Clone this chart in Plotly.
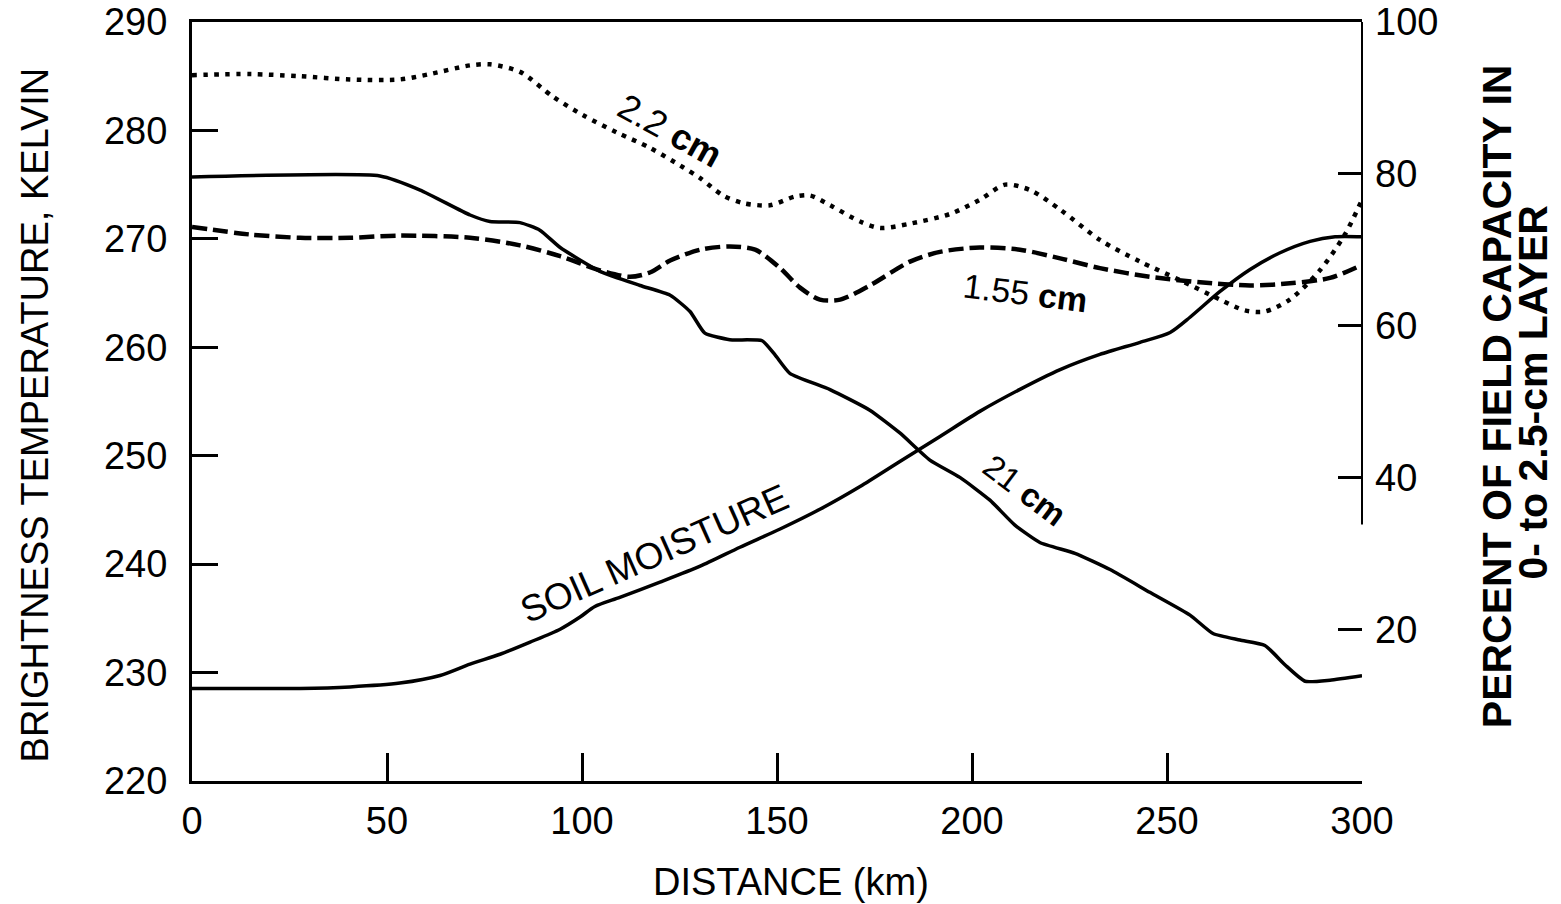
import plotly.graph_objects as go

# Distance along the flight line (km) and brightness temperatures (K)
dist_21 = [0, 48.2, 58.5, 71.3, 76.4, 84.1, 89.2, 94.4, 104.6, 114.9, 122.6, 127.7,
           131.5, 137.9, 146.2, 149.5, 153.3, 163.6, 173.8, 181.5, 189.2, 196.9,
           204.6, 211.0, 217.4, 226.4, 235.4, 245.6, 255.9, 261.8, 268.7, 275.1,
           280.3, 285.4, 291.8, 300]
tb_21 = [275.7, 275.8, 274.5, 272.2, 271.6, 271.5, 270.8, 269.2, 267.0, 265.7, 264.8,
         263.3, 261.3, 260.7, 260.6, 259.3, 257.6, 256.1, 254.2, 252.1, 249.6, 248.0,
         245.9, 243.6, 242.0, 241.0, 239.5, 237.4, 235.3, 233.6, 233.0, 232.5, 230.7,
         229.2, 229.3, 229.7]

dist_155 = [0, 14.9, 27.7, 40.5, 53.3, 71.3, 84.1, 94.4, 104.6, 112.3, 117.4, 122.6,
            130.3, 137.9, 144.4, 150.8, 155.9, 161.0, 166.2, 173.8, 184.1, 191.8,
            202.0, 212.3, 222.6, 232.8, 245.6, 258.5, 271.3, 281.5, 291.8, 300]
tb_155 = [271.1, 270.4, 270.1, 270.1, 270.3, 270.1, 269.4, 268.4, 267.1, 266.5, 266.9,
          268.0, 269.0, 269.3, 269.0, 267.3, 265.5, 264.4, 264.4, 265.7, 267.9, 268.8,
          269.2, 269.0, 268.2, 267.3, 266.5, 266.0, 265.7, 265.9, 266.4, 267.6]

dist_22 = [0, 14.9, 27.7, 40.5, 53.3, 61.0, 71.3, 76.4, 84.1, 92.6, 100.3, 109.0,
           117.4, 125.9, 130.3, 136.2, 141.3, 148.2, 154.6, 158.5, 163.6, 171.3,
           176.4, 184.1, 194.4, 202.0, 208.5, 214.9, 222.6, 232.8, 243.1, 253.3,
           263.6, 270.0, 275.1, 281.5, 289.2, 295.6, 300]
tb_22 = [285.1, 285.2, 285.0, 284.7, 284.7, 285.2, 286.0, 286.1, 285.4, 283.1, 281.4,
         279.8, 278.4, 276.6, 275.6, 274.0, 273.3, 273.1, 273.9, 274.0, 273.1, 271.6,
         271.0, 271.4, 272.3, 273.6, 275.0, 274.5, 272.7, 269.9, 267.9, 266.2, 264.4,
         263.4, 263.3, 264.4, 267.1, 270.4, 273.6]

# Soil moisture, percent of field capacity in the 0- to 2.5-cm layer
dist_sm = [0, 27.7, 40.5, 53.3, 63.6, 71.3, 79.0, 86.7, 94.4, 99.5, 103.3, 109.7,
           120.0, 130.3, 140.5, 150.8, 161.0, 171.3, 181.5, 191.8, 202.0, 212.3,
           222.6, 232.8, 243.1, 250.8, 255.9, 263.6, 271.3, 279.0, 286.7, 293.1, 300]
soil_pct = [12.2, 12.2, 12.4, 12.9, 13.9, 15.4, 16.7, 18.3, 20.0, 21.6, 23.0, 24.2,
            26.2, 28.3, 30.8, 33.2, 35.8, 38.8, 42.1, 45.4, 48.7, 51.6, 54.2, 56.2,
            57.8, 59.1, 61.1, 64.5, 67.4, 69.6, 71.1, 71.7, 71.7]

x_ticks = [0, 50, 100, 150, 200, 250, 300]
left_ticks = [220, 230, 240, 250, 260, 270, 280, 290]
right_ticks = [20, 40, 60, 80, 100]

FONT = "Liberation Sans, Arial, sans-serif"
INK = "#000000"

fig = go.Figure()

fig.add_trace(go.Scatter(x=dist_22, y=tb_22, mode="lines",
                         line=dict(color=INK, width=4.5, dash="4.5px,6.5px",
                                   shape="spline", smoothing=0.8)))
fig.add_trace(go.Scatter(x=dist_155, y=tb_155, mode="lines",
                         line=dict(color=INK, width=4.5, dash="15px,6px",
                                   shape="spline", smoothing=0.8)))
fig.add_trace(go.Scatter(x=dist_21, y=tb_21, mode="lines",
                         line=dict(color=INK, width=3.5, shape="spline", smoothing=0.5)))
fig.add_trace(go.Scatter(x=dist_sm, y=soil_pct, mode="lines", yaxis="y2",
                         line=dict(color=INK, width=3.5, shape="spline", smoothing=0.7)))

# Curve labels
labels = [
    dict(x=122.6, y=280.0, text="2.2 <b>cm</b>", textangle=29, size=36),
    dict(x=213.6, y=265.0, text="1.55 <b>cm</b>", textangle=7, size=34),
    dict(x=213.6, y=246.8, text="21 <b>cm</b>", textangle=37, size=33),
    dict(x=118.7, y=241.0, text="SOIL MOISTURE", textangle=-24, size=37),
]
for lab in labels:
    fig.add_annotation(x=lab["x"], y=lab["y"], text=lab["text"], showarrow=False,
                       textangle=lab["textangle"],
                       font=dict(family=FONT, size=lab["size"], color=INK))

# Axis titles
titles = [
    dict(x=0.512, y=-0.133, text="DISTANCE (km)", angle=0, bold=False),
    dict(x=-0.134, y=0.482, text="BRIGHTNESS TEMPERATURE, KELVIN", angle=-90, bold=False),
    dict(x=1.1154, y=0.507, text="<b>PERCENT OF FIELD CAPACITY IN</b>", angle=-90, bold=True),
    dict(x=1.1462, y=0.512, text="<b>0- to 2.5-cm LAYER</b>", angle=-90, bold=True),
]
for t in titles:
    fig.add_annotation(xref="paper", yref="paper", x=t["x"], y=t["y"], text=t["text"],
                       showarrow=False, textangle=t["angle"],
                       xanchor="center", yanchor="middle",
                       font=dict(family=FONT, size=41 if t["bold"] else 38, color=INK))

# Upper part of the right-hand frame
fig.add_shape(type="line", xref="paper", yref="y2", x0=1, x1=1, y0=33.8, y1=100,
              line=dict(color=INK, width=2))

fig.update_layout(
    width=1561, height=904,
    margin=dict(l=192, r=199, t=22, b=123),
    paper_bgcolor="white", plot_bgcolor="white",
    showlegend=False,
    font=dict(family=FONT, color=INK),
    xaxis=dict(range=[0, 300], tickvals=x_ticks, ticks="inside", ticklen=28,
               tickwidth=3, tickcolor=INK, showgrid=False, zeroline=False,
               showline=True, linewidth=3, linecolor=INK, mirror=True,
               tickfont=dict(size=38), ticklabelstandoff=4, automargin=False),
    yaxis=dict(range=[220, 290], tickvals=left_ticks, ticks="inside", ticklen=26,
               tickwidth=2.5, tickcolor=INK, showgrid=False, zeroline=False,
               showline=True, linewidth=3, linecolor=INK,
               tickfont=dict(size=38), ticklabelstandoff=14, automargin=False),
    yaxis2=dict(range=[0, 100], tickvals=right_ticks, overlaying="y", side="right",
                ticks="inside", ticklen=24, tickwidth=2.5, tickcolor=INK,
                showgrid=False, zeroline=False, showline=False,
                tickfont=dict(size=38), ticklabelstandoff=12, automargin=False),
)

fig.write_html("out.html")
